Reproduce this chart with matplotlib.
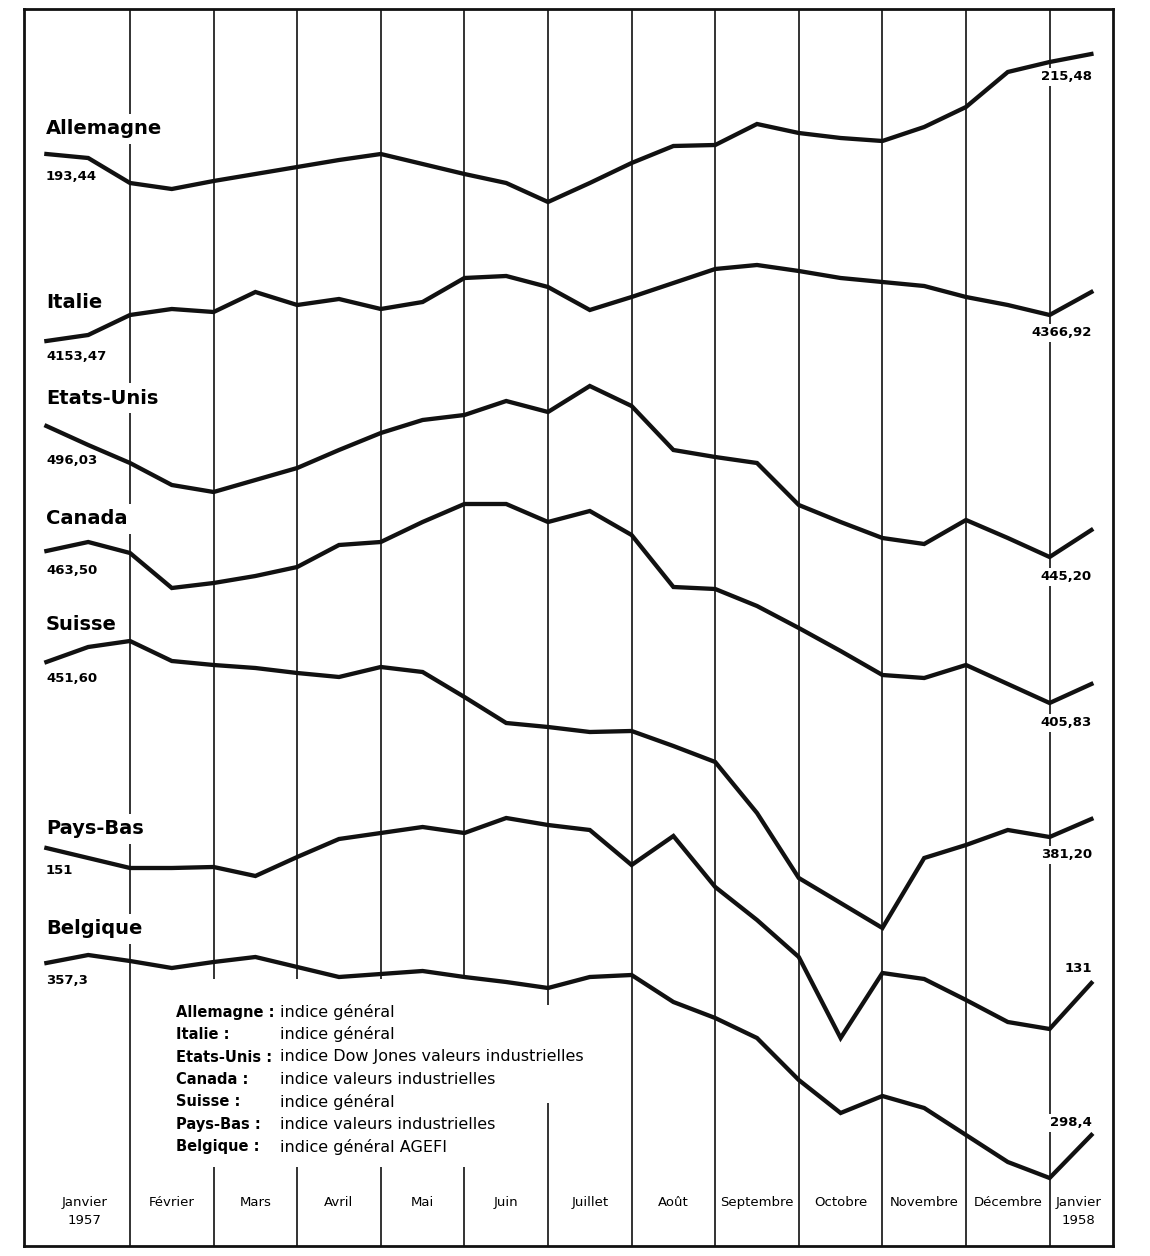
import matplotlib.pyplot as plt
from matplotlib.patches import Rectangle
import numpy as np

plt.rcParams['font.family'] = ['DejaVu Sans']

# mois (colonnes) et relevés bimensuels : 26 points de janvier 1957 à janvier 1958
mois = ["Janvier\n1957", "Février", "Mars", "Avril", "Mai", "Juin", "Juillet",
        "Août", "Septembre", "Octobre", "Novembre", "Décembre", "Janvier\n1958"]
periodes = np.arange(26)

# hauteur de chaque courbe (rangée de pixels, 0 = haut)
allemagne = [154, 158, 183, 189, 181, 174, 167, 160, 154, 164, 174, 183, 202,
             183, 163, 146, 145, 124, 133, 138, 141, 127, 107, 72, 62, 54]
italie = [341, 335, 315, 309, 312, 292, 305, 299, 309, 302, 278, 276, 287,
          310, 297, 283, 269, 265, 271, 278, 282, 286, 297, 305, 315, 292]
etats_unis = [426, 445, 463, 485, 492, 480, 468, 450, 433, 420, 415, 401, 412,
              386, 406, 450, 457, 463, 505, 522, 538, 544, 520, 538, 557, 530]
canada = [551, 542, 553, 588, 583, 576, 567, 545, 542, 522, 504, 504, 522,
          511, 535, 587, 589, 606, 628, 651, 675, 678, 665, 684, 703, 684]
suisse = [662, 647, 641, 661, 665, 668, 673, 677, 667, 672, 697, 723, 727,
          732, 731, 746, 762, 813, 878, 903, 928, 858, 845, 830, 837, 819]
pays_bas = [848, 858, 868, 868, 867, 876, 857, 839, 833, 827, 833, 818, 825,
            830, 865, 836, 887, 920, 957, 1038, 973, 979, 1000, 1022, 1029, 983]
belgique = [963, 955, 961, 968, 962, 957, 967, 977, 974, 971, 977, 982, 988,
            977, 975, 1002, 1018, 1038, 1080, 1113, 1096, 1108, 1135, 1162, 1178, 1135]

pays = ["Allemagne", "Italie", "Etats-Unis", "Canada", "Suisse", "Pays-Bas", "Belgique"]
debut = ["193,44", "4153,47", "496,03", "463,50", "451,60", "151", "357,3"]
fin = ["215,48", "4366,92", "445,20", "405,83", "381,20", "131", "298,4"]
indices = ["indice général", "indice général",
           "indice Dow Jones valeurs industrielles", "indice valeurs industrielles",
           "indice général", "indice valeurs industrielles", "indice général AGEFI"]
legende = ["Allemagne :", "Italie :", "Etats-Unis :", "Canada :", "Suisse :",
           "Pays-Bas :", "Belgique :"]
series = [allemagne, italie, etats_unis, canada, suisse, pays_bas, belgique]

# mise en page (pixels de l'image)
X0, DX = 46.4, 41.8
def px(x):
    return (x - X0) / DX

GAUCHE, DROITE, HAUT, BAS = 24, 1113, 9, 1246
fig = plt.figure(figsize=(11.5, 12.56), dpi=100)
ax = fig.add_axes([GAUCHE / 1150, 1 - BAS / 1256, (DROITE - GAUCHE) / 1150, (BAS - HAUT) / 1256])
ax.set_xlim(px(GAUCHE), px(DROITE))
ax.set_ylim(BAS, HAUT)
ax.set_xticks([])
ax.set_yticks([])
for s in ax.spines.values():
    s.set_linewidth(2.0)
    s.set_color('#111111')

# séparations des mois
for k in range(2, 25, 2):
    ax.axvline(k, color='#111111', lw=1.2, zorder=1)

# zone blanche de la légende
ax.add_patch(Rectangle((px(168), 979), (525 - 168) / DX, 1167 - 979, facecolor='white',
                       edgecolor='none', zorder=1.5))
ax.add_patch(Rectangle((px(525), 1005), 90 / DX, 1103 - 1005, facecolor='white',
                       edgecolor='none', zorder=1.5))

for serie in series:
    ax.plot(periodes, serie, color='#111111', lw=3.1, solid_joinstyle='miter', zorder=3)

boite = dict(facecolor='white', edgecolor='none', pad=4)
y_pays = [129, 303, 398, 519, 625, 829, 929]
y_debut = [176, 356, 460, 571, 678, 870, 981]
y_fin = [77, 333, 577, 723, 855, 968, 1123]
for nom, yp, d, yd, f, yf in zip(pays, y_pays, debut, y_debut, fin, y_fin):
    ax.text(px(46), yp, nom, fontsize=14, fontweight='bold', ha='left', va='center',
            bbox=boite, zorder=2)
    ax.text(px(46), yd, d, fontsize=9.5, fontweight='bold', ha='left', va='center', zorder=2)
    ax.text(px(1092), yf, f, fontsize=9.5, fontweight='bold', ha='right', va='center',
            bbox=dict(facecolor='white', edgecolor='none', pad=2), zorder=2)

for k, (lab, desc) in enumerate(zip(legende, indices)):
    y = 1012 + 22.5 * k
    ax.text(px(176), y, lab, fontsize=10.5, fontweight='bold', ha='left', va='center', zorder=2)
    ax.text(px(280), y, desc, fontsize=11.5, ha='left', va='center', zorder=2)

pos_mois = [0.92] + list(range(3, 24, 2)) + [24.7]
for m, xm in zip(mois, pos_mois):
    ax.text(xm, 1196, m, fontsize=9.5, ha='center', va='top', linespacing=1.55, zorder=2)

fig.savefig('out.png', dpi=100, facecolor='white')
